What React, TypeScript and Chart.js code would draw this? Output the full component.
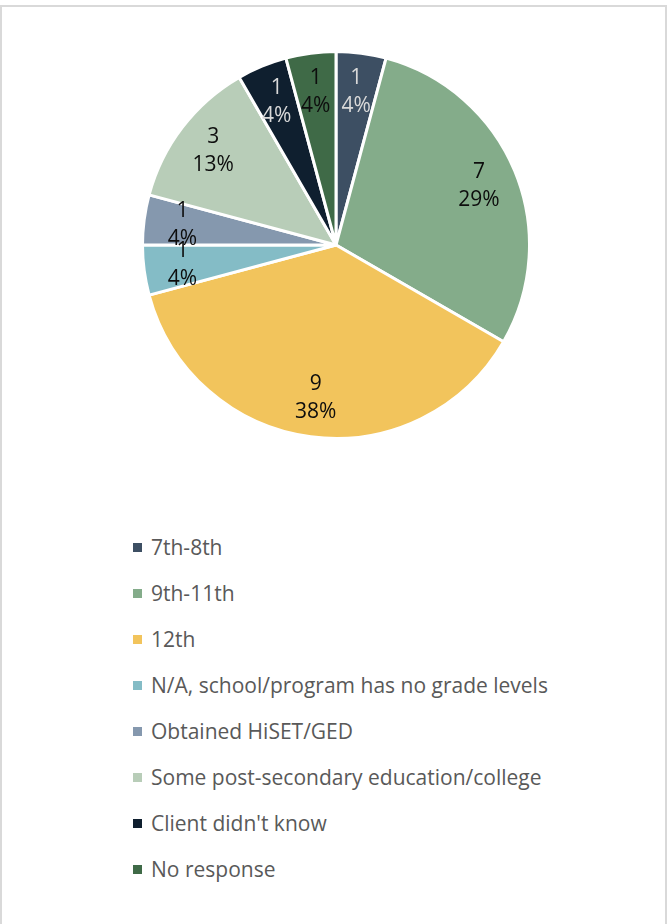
import React, { useEffect, useRef } from "react";
import { Chart, registerables } from "chart.js";

Chart.register(...registerables);

const categories = [
  "7th-8th",
  "9th-11th",
  "12th",
  "N/A, school/program has no grade levels",
  "Obtained HiSET/GED",
  "Some post-secondary education/college",
  "Client didn't know",
  "No response",
];
const counts = [1, 7, 9, 1, 1, 3, 1, 1];
const percentLabels = ["4%", "29%", "38%", "4%", "4%", "13%", "4%", "4%"];
const sliceColors = [
  "#3D4F63",
  "#84AC8A",
  "#F2C45C",
  "#84BCC6",
  "#8598AE",
  "#B8CDB8",
  "#0F1F2F",
  "#3F6A47",
];
const labelColors = [
  "#D9D9D9",
  "#0D0D0D",
  "#0D0D0D",
  "#0D0D0D",
  "#0D0D0D",
  "#0D0D0D",
  "#D9D9D9",
  "#0D0D0D",
];

const FONT = '"Open Sans", "Liberation Sans", sans-serif';

const sliceLabelPlugin = {
  id: "sliceLabels",
  afterDatasetsDraw(chart: any) {
    const ctx = chart.ctx;
    const meta = chart.getDatasetMeta(0);
    meta.data.forEach((arc: any, i: number) => {
      const p = arc.getProps(["x", "y", "startAngle", "endAngle", "outerRadius"], true);
      const mid = (p.startAngle + p.endAngle) / 2;
      const d = p.outerRadius * 0.8;
      const px = p.x + Math.cos(mid) * d;
      const py = p.y + Math.sin(mid) * d;
      ctx.save();
      ctx.font = `21px ${FONT}`;
      ctx.fillStyle = labelColors[i];
      ctx.textAlign = "center";
      ctx.textBaseline = "middle";
      ctx.fillText(String(counts[i]), px, py - 14);
      ctx.fillText(percentLabels[i], px, py + 14);
      ctx.restore();
    });
  },
};

function PieChart() {
  const ref = useRef<HTMLCanvasElement | null>(null);
  useEffect(() => {
    if (!ref.current) return;
    const chart = new Chart(ref.current, {
      type: "pie",
      data: {
        labels: categories,
        datasets: [
          {
            data: counts,
            backgroundColor: sliceColors,
            borderColor: "#FFFFFF",
            borderWidth: 3,
          },
        ],
      },
      options: {
        responsive: false,
        animation: false,
        layout: { padding: 0 },
        plugins: {
          legend: { display: false },
          tooltip: { enabled: false },
        },
      },
      plugins: [sliceLabelPlugin],
    });
    return () => chart.destroy();
  }, []);
  return (
    <canvas
      ref={ref}
      width={390}
      height={390}
      style={{ position: "absolute", left: 141, top: 50, width: 390, height: 390 }}
    />
  );
}

export default function App() {
  return (
    <div
      style={{
        position: "absolute",
        left: 0,
        top: 0,
        width: 668,
        height: 924,
        background: "#FFFFFF",
        overflow: "hidden",
        fontFamily: FONT,
      }}
    >
      <div
        style={{
          position: "absolute",
          left: 0,
          top: 5,
          width: 667,
          height: 930,
          border: "2px solid #D9D9D9",
          boxSizing: "border-box",
        }}
      />
      <PieChart />
      <div style={{ position: "absolute", left: 133, top: 524 }}>
        {categories.map((c, i) => (
          <div
            key={c}
            style={{
              position: "relative",
              height: 46,
              display: "flex",
              alignItems: "center",
              whiteSpace: "nowrap",
            }}
          >
            <span
              style={{
                display: "inline-block",
                width: 9,
                height: 9,
                background: sliceColors[i],
                marginRight: 9,
              }}
            />
            <span style={{ fontSize: 21, color: "#595959", lineHeight: "46px" }}>{c}</span>
          </div>
        ))}
      </div>
    </div>
  );
}
